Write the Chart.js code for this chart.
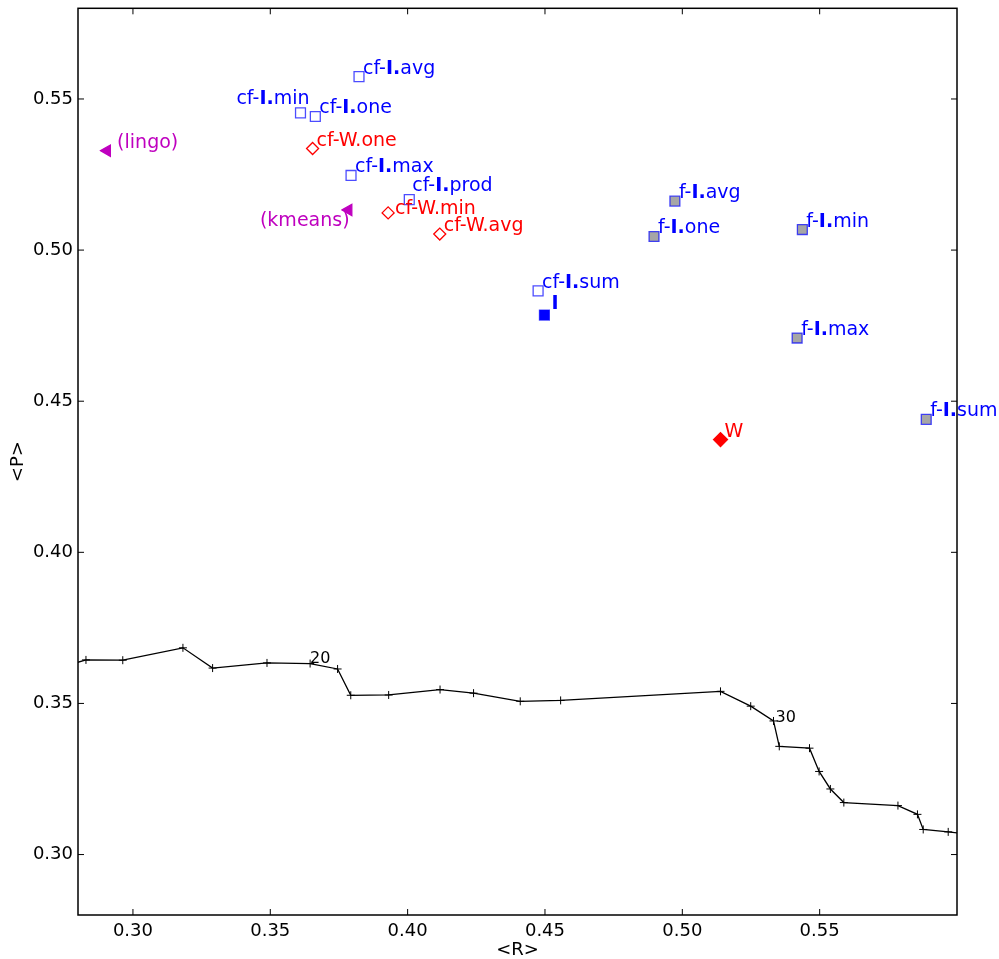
<!DOCTYPE html>
<html>
<head>
<meta charset="utf-8">
<script src="https://cdn.jsdelivr.net/npm/chart.js@4"></script>
<style>
  html, body { margin: 0; padding: 0; background: #fff; }
  canvas { display: block; }
</style>
</head>
<body>
<canvas id="prChart" width="999" height="959"></canvas>
<script>
// Axis ticks
const xTicks = [0.30, 0.35, 0.40, 0.45, 0.50, 0.55];
const yTicks = [0.30, 0.35, 0.40, 0.45, 0.50, 0.55];

// cf-I runs (open squares)
const cfINames = ['cf-I.avg', 'cf-I.min', 'cf-I.one', 'cf-I.max', 'cf-I.prod', 'cf-I.sum'];
const cfIR = [0.3823, 0.3610, 0.3664, 0.3794, 0.4006, 0.4475];
const cfIP = [0.5574, 0.5454, 0.5442, 0.5247, 0.5167, 0.4865];

// f-I runs (grey squares)
const fINames = ['f-I.avg', 'f-I.one', 'f-I.min', 'f-I.max', 'f-I.sum'];
const fIR = [0.4973, 0.4897, 0.5437, 0.5418, 0.5888];
const fIP = [0.5162, 0.5045, 0.5068, 0.4709, 0.4440];

// plain I
const iNames = ['I'];
const iR = [0.4498];
const iP = [0.4785];

// cf-W runs (open diamonds)
const cfWNames = ['cf-W.one', 'cf-W.min', 'cf-W.avg'];
const cfWR = [0.3654, 0.3929, 0.4117];
const cfWP = [0.5336, 0.5123, 0.5053];

// plain W
const wNames = ['W'];
const wR = [0.5139];
const wP = [0.4373];

// baselines
const baseNames = ['(lingo)', '(kmeans)'];
const baseR = [0.2906, 0.3785];
const baseP = [0.5329, 0.5133];

// threshold sweep curve
const sweepR = [0.270, 0.2829, 0.2963, 0.3182, 0.3290, 0.3488, 0.3645, 0.3745, 0.3793, 0.3931,
                0.4118, 0.4240, 0.4410, 0.4557, 0.5139, 0.5249, 0.5332, 0.5353, 0.5463, 0.5498,
                0.5539, 0.5588, 0.5785, 0.5856, 0.5877, 0.5968, 0.610];
const sweepP = [0.3610, 0.3644, 0.3643, 0.3684, 0.3617, 0.3634, 0.3632, 0.3614, 0.3527, 0.3528,
                0.3546, 0.3534, 0.3507, 0.3510, 0.3540, 0.3491, 0.3442, 0.3358, 0.3352, 0.3275,
                0.3217, 0.3172, 0.3162, 0.3133, 0.3083, 0.3075, 0.3062];
const sweepNotes = ['', '', '', '', '', '', '20', '', '', '',
                    '', '', '', '', '', '', '30', '', '', '',
                    '', '', '', '', '', '', ''];

const FONT = 'DejaVu Sans';
const BLUE = '#0000ff';
const BLUE_EDGE = 'rgba(0,0,255,0.7)';
const RED = '#ff0000';
const MAGENTA = '#bf00bf';

// label placement (pixel offsets from the marker), default is right/above
const labelOffsets = {
  'cf-I.min': { dx: 9, dy: -9, align: 'right' },
  'cf-I.prod': { dx: 3, dy: -9 },
  'cf-W.min': { dx: 7, dy: 1 },
  '(lingo)': { dx: 10, dy: -3 },
  '(kmeans)': { dx: 1, dy: 16, align: 'right' },
  'I': { dx: 7, dy: -6 },
  '20': { dx: 0, dy: -1 },
  '30': { dx: 2, dy: 1 }
};

function zipPoints(xs, ys) {
  return xs.map((x, i) => ({ x, y: ys[i] }));
}

function makeSet(names, xs, ys, style) {
  return Object.assign({
    data: zipPoints(xs, ys),
    names,
    showLine: false,
    borderWidth: 1.3,
    pointHoverRadius: 0
  }, style);
}

const datasets = [
  Object.assign(makeSet(sweepNotes, sweepR, sweepP, {}), {
    showLine: true,
    borderColor: '#000',
    borderWidth: 1.3,
    pointStyle: 'cross',
    pointRadius: 4,
    pointBorderWidth: 1,
    pointBorderColor: '#000',
    labelColor: '#000',
    labelSize: 16,
    order: 5
  }),
  makeSet(cfINames, cfIR, cfIP, { pointStyle: 'rect', pointRadius: 7, backgroundColor: 'rgba(255,255,255,0)', borderColor: BLUE_EDGE, labelColor: BLUE }),
  makeSet(fINames, fIR, fIP, { pointStyle: 'rect', pointRadius: 7, backgroundColor: '#a6a6a6', borderColor: BLUE_EDGE, labelColor: BLUE }),
  makeSet(iNames, iR, iP, { pointStyle: 'rect', pointRadius: 7, backgroundColor: BLUE, borderColor: BLUE_EDGE, labelColor: BLUE }),
  makeSet(cfWNames, cfWR, cfWP, { pointStyle: 'rectRot', pointRadius: 6, backgroundColor: 'rgba(255,255,255,0)', borderColor: RED, labelColor: RED }),
  makeSet(wNames, wR, wP, { pointStyle: 'rectRot', pointRadius: 7, backgroundColor: RED, borderColor: RED, labelColor: RED }),
  makeSet(baseNames, baseR, baseP, { pointStyle: 'triangle', pointRotation: -90, pointRadius: 6.5, backgroundColor: MAGENTA, borderColor: MAGENTA, labelColor: MAGENTA })
];

// draws "cf-I.avg" style labels with the "I." part in bold
function drawRichLabel(ctx, text, x, y, color, size, align) {
  const m = text.match(/^(.*?-?)(I\.?)(.*)$/);
  const parts = m && (m[1] === '' || m[1].endsWith('-'))
    ? [[m[1], 'normal'], [m[2], 'bold'], [m[3], 'normal']]
    : [[text, 'normal']];
  let total = 0;
  for (const [t, w] of parts) {
    ctx.font = `${w} ${size}px "${FONT}"`;
    total += ctx.measureText(t).width;
  }
  let cx = align === 'right' ? x - total : x;
  ctx.fillStyle = color;
  ctx.textBaseline = 'alphabetic';
  ctx.textAlign = 'left';
  for (const [t, w] of parts) {
    ctx.font = `${w} ${size}px "${FONT}"`;
    ctx.fillText(t, cx, y);
    cx += ctx.measureText(t).width;
  }
}

const pointLabels = {
  id: 'pointLabels',
  afterDatasetsDraw(chart) {
    const ctx = chart.ctx;
    ctx.save();
    chart.data.datasets.forEach((ds, di) => {
      const meta = chart.getDatasetMeta(di);
      ds.names.forEach((name, i) => {
        if (!name) return;
        const el = meta.data[i];
        const off = labelOffsets[name] || { dx: 4, dy: -3 };
        drawRichLabel(ctx, name, el.x + off.dx, el.y + off.dy, ds.labelColor, ds.labelSize || 19, off.align);
      });
    });
    ctx.restore();
  }
};

// matplotlib-style frame with inward ticks on all four sides
const frameTicks = {
  id: 'frameTicks',
  afterDraw(chart) {
    const { ctx, chartArea: a, scales } = chart;
    const len = 6;
    ctx.save();
    ctx.strokeStyle = '#000';
    ctx.lineWidth = 1;
    ctx.beginPath();
    for (const v of xTicks) {
      const px = scales.x.getPixelForValue(v);
      ctx.moveTo(px, a.bottom); ctx.lineTo(px, a.bottom - len);
      ctx.moveTo(px, a.top); ctx.lineTo(px, a.top + len);
    }
    for (const v of yTicks) {
      const py = scales.y.getPixelForValue(v);
      ctx.moveTo(a.left, py); ctx.lineTo(a.left + len, py);
      ctx.moveTo(a.right, py); ctx.lineTo(a.right - len, py);
    }
    ctx.stroke();
    ctx.lineWidth = 1.5;
    ctx.strokeRect(a.left, a.top, a.right - a.left, a.bottom - a.top);
    ctx.restore();
  }
};

new Chart(document.getElementById('prChart'), {
  type: 'scatter',
  data: { datasets },
  plugins: [pointLabels, frameTicks],
  options: {
    responsive: false,
    animation: false,
    devicePixelRatio: 1,
    layout: { padding: { top: 7, right: 42, bottom: 0, left: 0 } },
    plugins: {
      legend: { display: false },
      tooltip: { enabled: false }
    },
    scales: {
      x: {
        type: 'linear',
        min: 0.28,
        max: 0.60,
        afterFit: (s) => { s.height = 44; s.paddingLeft = 0; s.paddingRight = 0; },
        afterBuildTicks: (s) => { s.ticks = xTicks.map(v => ({ value: v })); },
        grid: { display: false, drawTicks: false },
        border: { display: false },
        ticks: {
          color: '#000',
          padding: 6,
          font: { family: FONT, size: 18 },
          callback: (v) => Number(v).toFixed(2)
        },
        title: {
          display: true,
          text: '<R>',
          color: '#000',
          font: { family: FONT, size: 18, lineHeight: 1 },
          padding: { top: 0, bottom: 0 }
        }
      },
      y: {
        type: 'linear',
        min: 0.28,
        max: 0.58,
        afterFit: (s) => { s.width = 78; s.paddingTop = 0; s.paddingBottom = 0; },
        afterBuildTicks: (s) => { s.ticks = yTicks.map(v => ({ value: v })); },
        grid: { display: false, drawTicks: false },
        border: { display: false },
        ticks: {
          color: '#000',
          padding: 5,
          font: { family: FONT, size: 18 },
          callback: (v) => Number(v).toFixed(2)
        },
        title: {
          display: true,
          text: '<P>',
          color: '#000',
          font: { family: FONT, size: 18, lineHeight: 1 },
          padding: { top: 9, bottom: 0 }
        }
      }
    }
  }
});
</script>
</body>
</html>
